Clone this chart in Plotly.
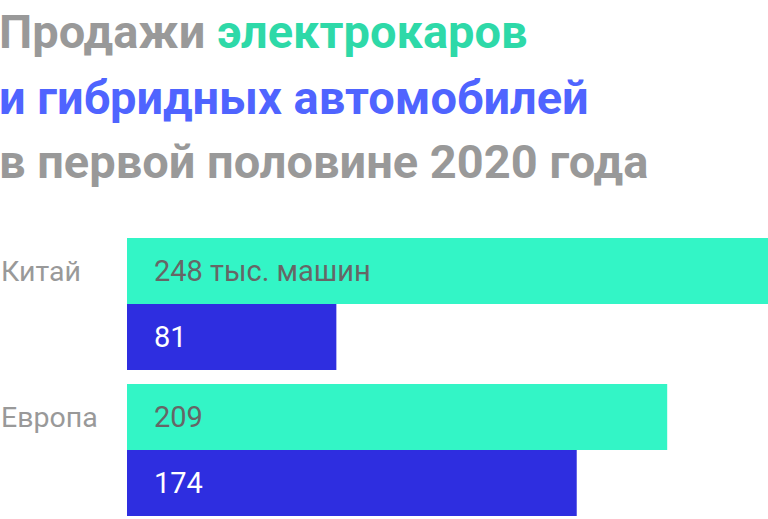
import plotly.graph_objects as go

# data
regions = ["Китай", "Европа"]
electric = [248, 209]
hybrid = [81, 174]
electric_labels = ["248 тыс. машин", "209"]
hybrid_labels = ["81", "174"]

W, H = 768, 519
PLOT_TOP, PLOT_BOTTOM, PLOT_LEFT = 238, 516, 127
TEAL = "#33F5C6"
BLUE = "#2E2EE0"
GRAY = "#999999"


def py(p):
    # pixel row -> paper y
    return (PLOT_BOTTOM - p) / (PLOT_BOTTOM - PLOT_TOP)


def px(p):
    # pixel column -> paper x
    return (p - PLOT_LEFT) / (W - PLOT_LEFT)


fig = go.Figure()
fig.add_trace(go.Bar(y=regions, x=electric, orientation="h", marker_color=TEAL,
                     marker_line_width=0, hoverinfo="skip", name="electric"))
fig.add_trace(go.Bar(y=regions, x=hybrid, orientation="h", marker_color=BLUE,
                     marker_line_width=0, hoverinfo="skip", name="hybrid"))

annotations = []
for r, lab in zip(regions, electric_labels):
    annotations.append(dict(x=0, y=r, xref="x", yref="y", text=lab, showarrow=False,
                            xanchor="left", yanchor="middle", xshift=25, yshift=33,
                            font=dict(family="Roboto", size=29, color="#666666")))
    annotations.append(dict(x=px(0), y=r, xref="paper", yref="y", text=r, showarrow=False,
                            xanchor="left", yanchor="middle", yshift=33, xshift=-1,
                            font=dict(family="Roboto", size=28.5, color=GRAY)))
for r, lab in zip(regions, hybrid_labels):
    annotations.append(dict(x=0, y=r, xref="x", yref="y", text=lab, showarrow=False,
                            xanchor="left", yanchor="middle", xshift=25, yshift=-33,
                            font=dict(family="Roboto", size=29, color="white")))

title_lines = [
    ("Продажи <span style='color:#2ED9A8'>электрокаров</span>", 32),
    ("<span style='color:#4F64FF'>и гибридных автомобилей</span>", 97),
    ("в первой половине 2020 года", 161),
]
for text, yc in title_lines:
    annotations.append(dict(x=px(0), y=py(yc), xref="paper", yref="paper", text=text,
                            showarrow=False, xanchor="left", yanchor="middle", xshift=-3,
                            font=dict(family="Roboto", size=47, color=GRAY, weight="bold")))

fig.update_layout(
    width=W, height=H,
    margin=dict(l=PLOT_LEFT, r=0, t=PLOT_TOP, b=H - PLOT_BOTTOM, pad=0),
    paper_bgcolor="white", plot_bgcolor="white",
    barmode="group", bargap=14 / 146, bargroupgap=0,
    showlegend=False,
    xaxis=dict(range=[0, 248], visible=False, fixedrange=True),
    yaxis=dict(range=[1.452, -0.452], visible=False, fixedrange=True),
    annotations=annotations,
)

fig.write_html("out.html", config={"displayModeBar": False},
               post_script="document.body.style.margin='0';")
